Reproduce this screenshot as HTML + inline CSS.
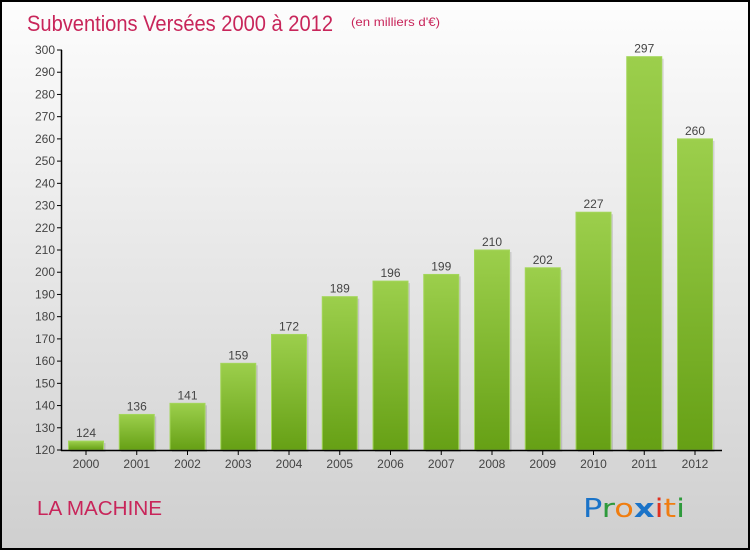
<!DOCTYPE html>
<html><head><meta charset="utf-8"><style>
body{margin:0}
#c{position:relative;width:746px;height:546px;border:2px solid #000;background:linear-gradient(#fdfdfd,#cfcfcf);font-family:"Liberation Sans",sans-serif;overflow:hidden}
</style></head><body>
<div id="c">
<svg id="s" width="746" height="546" style="position:absolute;left:0;top:0">
<defs><linearGradient id="g" x1="0" y1="0" x2="0" y2="1"><stop offset="0" stop-color="#9ccf4c"/><stop offset="1" stop-color="#66a015"/></linearGradient></defs>
<text x="25" y="29" font-size="22" fill="#c8255a" textLength="306" lengthAdjust="spacingAndGlyphs">Subventions Versées 2000 à 2012</text>
<text x="349" y="24" font-size="12" fill="#c8255a" textLength="89" lengthAdjust="spacingAndGlyphs">(en milliers d'€)</text>
<text x="35" y="513" font-size="20" fill="#c8255a" textLength="125" lengthAdjust="spacingAndGlyphs">LA MACHINE</text>
<g font-size="26" font-family="'DejaVu Sans',sans-serif">
<text x="581" y="515" textLength="102" lengthAdjust="spacingAndGlyphs"><tspan fill="#1a73c8">P</tspan><tspan fill="#2e9a3c">r</tspan><tspan fill="#f07d10">o</tspan><tspan fill="#1a73c8" font-weight="bold">x</tspan><tspan fill="#e03020">i</tspan><tspan fill="#f07d10">t</tspan><tspan fill="#2e9a3c">i</tspan></text></g>
<g id="plot"></g>
</svg></div>
<script>
const years=["2000","2001","2002","2003","2004","2005","2006","2007","2008","2009","2010","2011","2012"];
const values=[124,136,141,159,172,189,196,199,210,202,227,297,260];
const yTicks=[120,130,140,150,160,170,180,190,200,210,220,230,240,250,260,270,280,290,300];
const ns="http://www.w3.org/2000/svg",p=document.getElementById('plot');
const y=v=>448-(v-120)*400/180, x=i=>84+i*50.75;
function el(t,a){const e=document.createElementNS(ns,t);for(const k in a)e.setAttribute(k,a[k]);p.appendChild(e);return e;}
yTicks.forEach(t=>{
 const l=el('line',{x1:55,x2:60,y1:y(t),y2:y(t),stroke:'#000'});
 
 
 const tx=el('text',{x:53,y:y(t)+4,'text-anchor':'end','font-size':12,fill:'#444'});tx.textContent=t;
 
 
});
values.forEach((v,i)=>{
 const r=el('rect',{x:x(i)-17.5+2,y:y(v)+2,width:35,height:y(120)-y(v),fill:'#000',opacity:0.12});
 
 
 const b=el('rect',{x:x(i)-17.5,y:y(v),width:35,height:y(120)-y(v),fill:'url(#g)',stroke:'#a3d65a','stroke-width':1});
 
 
 const t=el('text',{x:x(i),y:y(v)-4,'text-anchor':'middle','font-size':12,fill:'#444'});t.textContent=v;
 
 
 const tk=el('line',{x1:x(i),x2:x(i),y1:448,y2:453,stroke:'#000'});
 
 
 const yl=el('text',{x:x(i),y:466,'text-anchor':'middle','font-size':12,fill:'#444'});yl.textContent=years[i];
 
 
});
const ya=el('line',{x1:59.5,x2:59.5,y1:48,y2:449,stroke:'#000','stroke-width':1.5});


const xa=el('line',{x1:59,x2:720,y1:448.5,y2:448.5,stroke:'#000','stroke-width':1.5});


</script>
</body></html>
